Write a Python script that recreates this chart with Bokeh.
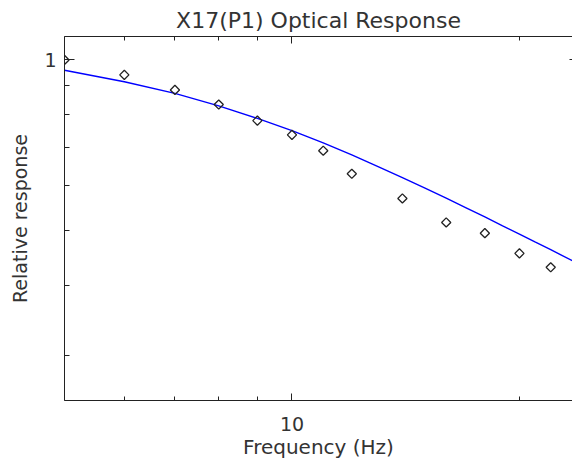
import numpy as np
from bokeh.plotting import figure
from bokeh.models import LogAxis, FixedTicker, Range1d, ColumnDataSource, BasicTickFormatter
from bokeh.embed import file_html
from bokeh.resources import INLINE

# Measured optical response (diamonds)
freq_meas = [5, 6, 7, 8, 9, 10, 11, 12, 14, 16, 18, 20, 22]
resp_meas = [1.000, 0.941, 0.885, 0.834, 0.781, 0.737, 0.691, 0.629, 0.569, 0.516, 0.494, 0.455, 0.430]

# Model response curve (blue line)
freq_model = [5, 6, 7, 8, 9, 10, 11, 12, 13, 14, 15, 16, 17, 18, 19, 20, 21, 22, 23.5]
resp_model = [0.9589, 0.9151, 0.8725, 0.8295, 0.7882, 0.7497, 0.7137, 0.6792, 0.6478,
              0.6195, 0.5935, 0.5697, 0.5477, 0.5277, 0.5089, 0.4923, 0.4763, 0.4618, 0.4416]

# Axis ticks
x_major = [10]
x_minor = [5, 6, 7, 8, 9, 20]
y_major = [1]
y_minor = [0.3, 0.4, 0.5, 0.6, 0.7, 0.8, 0.9]

TITLE = "X17(P1) Optical Response"
FONT = "DejaVu Sans"
INK = "#222222"
TEXT = "#333333"

p = figure(width=572, height=463,
           x_axis_type="log", y_axis_type="log",
           x_range=Range1d(5, 23.51), y_range=Range1d(0.25, 1.1),
           output_backend="svg", toolbar_location=None,
           min_border_left=64, min_border_right=0,
           min_border_top=36, min_border_bottom=63,
           title=TITLE)

p.title.align = "center"
p.title.offset = 4
p.title.text_font = FONT
p.title.text_font_size = "22px"
p.title.text_font_style = "normal"
p.title.text_color = TEXT
p.title.standoff = 8

p.grid.visible = False
p.outline_line_color = None
p.background_fill_color = "white"
p.border_fill_color = "white"


def style_axis(ax, major_in, minor_in, show_labels=True):
    ax.axis_line_color = INK
    ax.axis_line_width = 1
    ax.major_tick_line_color = INK
    ax.minor_tick_line_color = INK
    ax.major_tick_in = major_in
    ax.major_tick_out = 0
    ax.minor_tick_in = minor_in
    ax.minor_tick_out = 0
    ax.major_label_text_font = FONT
    ax.major_label_text_color = TEXT
    ax.axis_label_text_font = FONT
    ax.axis_label_text_color = TEXT
    ax.axis_label_text_font_style = "normal"
    if not show_labels:
        ax.major_label_text_font_size = "1px"
        ax.major_label_text_alpha = 0
        ax.major_label_standoff = 0


xa = p.xaxis[0]
xa.ticker = FixedTicker(ticks=x_major, minor_ticks=x_minor)
xa.formatter = BasicTickFormatter()
xa.axis_label = "Frequency (Hz)"
style_axis(xa, 7, 4)
xa.major_label_text_font_size = "19px"
xa.axis_label_text_font_size = "20px"
xa.major_label_standoff = 16
xa.axis_label_standoff = 1

ya = p.yaxis[0]
ya.ticker = FixedTicker(ticks=y_major, minor_ticks=y_minor)
ya.formatter = BasicTickFormatter()
ya.axis_label = "Relative response"
style_axis(ya, 10, 5)
ya.major_label_text_font_size = "19px"
ya.axis_label_text_font_size = "19px"
ya.major_label_standoff = 8
ya.axis_label_standoff = 10

top = LogAxis(ticker=FixedTicker(ticks=x_major, minor_ticks=x_minor))
style_axis(top, 7, 4, show_labels=False)
p.add_layout(top, "above")

right = LogAxis(ticker=FixedTicker(ticks=y_major, minor_ticks=y_minor))
style_axis(right, 3, 1, show_labels=False)
right.axis_line_color = None
right.minor_tick_line_color = None
p.add_layout(right, "right")

model_src = ColumnDataSource(dict(f=freq_model, r=resp_model))
meas_src = ColumnDataSource(dict(f=freq_meas, r=resp_meas))

p.line("f", "r", source=model_src, line_color="#0000ff", line_width=1.4)
p.scatter("f", "r", source=meas_src, marker="square", angle=np.pi / 4,
          size=6.5, fill_color=None, line_color=INK, line_width=1.3)

open("out.html", "w").write(file_html(p, INLINE))
